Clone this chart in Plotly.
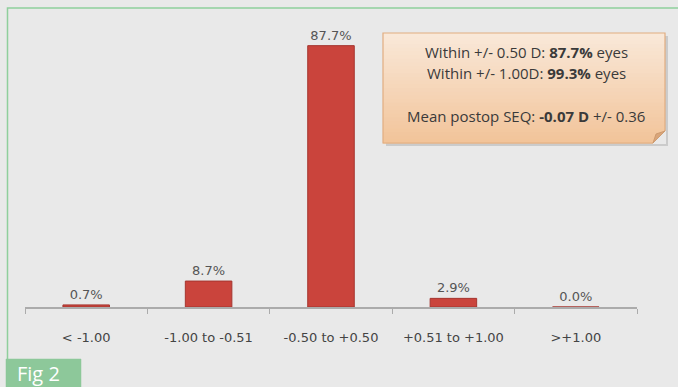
import plotly.graph_objects as go

# Refraction outcome bins and share of eyes (%)
categories = ["< -1.00", "-1.00 to -0.51", "-0.50 to +0.50", "+0.51 to +1.00", ">+1.00"]
percent_eyes = [0.7, 8.7, 87.7, 2.9, 0.0]

summary_lines = [
    "Within +/- 0.50 D: <b>87.7%</b> eyes",
    "Within +/- 1.00D: <b>99.3%</b> eyes",
    "Mean postop SEQ: <b>-0.07 D</b> +/- 0.36",
]
figure_label = "Fig 2"

W, H = 678, 387
ML, MR, MT, MB = 25, 41, 9, 80
PW, PH = W - ML - MR, H - MT - MB


def px(x):
    return (x - ML) / PW


def py(y):
    return (H - MB - y) / PH


def pt(x, y):
    return f"{px(x):.5f},{py(y):.5f}"


def box_path(x0, y0, x1, y1):
    return f"M {pt(x0, y0)} L {pt(x1, y0)} L {pt(x1, y1)} L {pt(x0, y1)} Z"


BG = "#e9e9e9"
GREEN = "#8fcf9c"

fig = go.Figure()
fig.add_trace(go.Bar(
    x=categories,
    y=percent_eyes,
    width=0.38,
    marker=dict(color="#ca443c", line=dict(color="#a5352f", width=1)),
    text=[f"{v:.1f}%" for v in percent_eyes],
    textposition="outside",
    textfont=dict(family="DejaVu Sans", size=13, color="#555555"),
    cliponaxis=False,
    hoverinfo="skip",
))

shapes = []
# green frame: left and top edges as one open path
shapes.append(dict(type="path", xref="paper", yref="paper",
                   path=f"M {pt(7.5, 359)} L {pt(7.5, 8)} L {pt(W, 8)}",
                   line=dict(color=GREEN, width=1.5)))
# figure tag box
shapes.append(dict(type="path", xref="paper", yref="paper",
                   path=box_path(6, 359, 81, H),
                   fillcolor="#8dc89a", line=dict(color="#8dc89a", width=0.5)))

# summary callout: soft shadow, vertical peach gradient, border, folded corner
bx0, bx1, by0, by1 = 383, 665, 33, 143
shapes.append(dict(type="rect", xref="paper", yref="paper",
                   x0=px(bx0 + 3), x1=px(bx1 + 3), y0=py(by1 + 3), y1=py(by0 + 3),
                   fillcolor="rgba(150,150,150,0.35)", line=dict(width=0), layer="below"))
top_rgb = (249, 232, 216)
bot_rgb = (242, 196, 154)
n = 30
for i in range(n):
    t = i / (n - 1)
    c = tuple(round(a + (b - a) * t) for a, b in zip(top_rgb, bot_rgb))
    ya = by0 + (by1 - by0) * i / n
    yb = by0 + (by1 - by0) * (i + 1) / n
    shapes.append(dict(type="rect", xref="paper", yref="paper",
                       x0=px(bx0), x1=px(bx1), y0=py(yb + 0.6), y1=py(ya),
                       fillcolor=f"rgb{c}", line=dict(width=0), layer="below"))
shapes.append(dict(type="rect", xref="paper", yref="paper",
                   x0=px(bx0), x1=px(bx1), y0=py(by1), y1=py(by0),
                   fillcolor="rgba(0,0,0,0)", line=dict(color="#e2ad80", width=1.2), layer="below"))
# folded corner
fx, fy = bx1, by1
shapes.append(dict(type="path", xref="paper", yref="paper",
                   path=f"M {pt(fx - 12, fy + 1)} L {pt(fx - 12, fy)} L {pt(fx, fy - 12)} L {pt(fx + 1, fy - 12)} L {pt(fx + 1, fy + 1)} Z",
                   fillcolor=BG, line=dict(width=0)))
shapes.append(dict(type="path", xref="paper", yref="paper",
                   path=f"M {pt(fx - 12, fy)} L {pt(fx, fy - 12)} L {pt(fx - 9, fy - 9)} Z",
                   fillcolor="#d9a57a", line=dict(color="#c89468", width=0.8)))

annotations = []
for txt, yline in zip(summary_lines, [52, 72.5, 116]):
    annotations.append(dict(xref="paper", yref="paper", x=px(526), y=py(yline),
                            text=txt, showarrow=False, xanchor="center", yanchor="middle",
                            font=dict(family="Open Sans", size=15, color="#3a3a3a")))
annotations.append(dict(xref="paper", yref="paper", x=px(15), y=py(373),
                        text=figure_label, showarrow=False, xanchor="left", yanchor="middle",
                        font=dict(family="Open Sans", size=20, color="#ffffff")))

fig.update_layout(
    width=W, height=H,
    margin=dict(l=ML, r=MR, t=MT, b=MB),
    paper_bgcolor=BG, plot_bgcolor=BG,
    showlegend=False,
    shapes=shapes,
    annotations=annotations,
    xaxis=dict(
        type="category",
        showline=True, linecolor="#ababab", linewidth=1.5,
        ticks="outside", tickson="boundaries", ticklen=5, tickcolor="#ababab",
        showgrid=False, zeroline=False,
        tickfont=dict(family="DejaVu Sans", size=13, color="#444444"),
        ticklabelstandoff=18,
    ),
    yaxis=dict(range=[0, 100], visible=False, showgrid=False, zeroline=False),
)

fig.write_html("out.html")
